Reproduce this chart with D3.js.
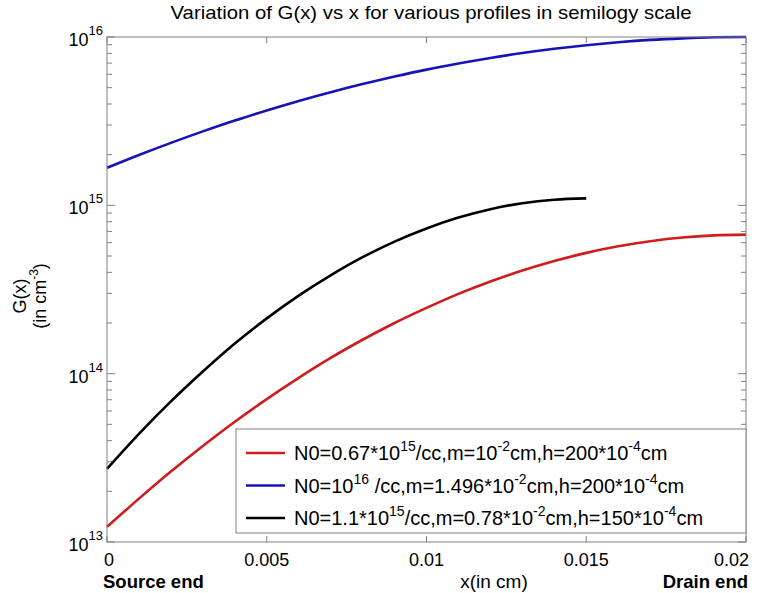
<!DOCTYPE html>
<html>
<head>
<meta charset="utf-8">
<script src="https://cdn.jsdelivr.net/npm/d3@7"></script>
<style>
	body { margin: 0; background: #fff; }
	svg { font-family: 'Liberation Sans', Arial, sans-serif; }
</style>
</head>
<body>
<div id="chart"></div>
<script>
// x positions (cm) shared by the curves
const xs = [0, 0.001, 0.002, 0.003, 0.004, 0.005, 0.006, 0.007, 0.008, 0.009, 0.01,
	0.011, 0.012, 0.013, 0.014, 0.015, 0.016, 0.017, 0.018, 0.019, 0.02]

// G(x), cm^-3
const redG = [1.23e13, 1.81e13, 2.62e13, 3.72e13, 5.18e13, 7.06e13, 9.44e13, 1.24e14,
	1.59e14, 2.0e14, 2.46e14, 2.98e14, 3.53e14, 4.1e14, 4.67e14, 5.22e14, 5.71e14,
	6.12e14, 6.44e14, 6.63e14, 6.7e14]
const blueG = [1.67e15, 1.99e15, 2.35e15, 2.75e15, 3.19e15, 3.66e15, 4.17e15, 4.7e15,
	5.25e15, 5.82e15, 6.4e15, 6.96e15, 7.51e15, 8.03e15, 8.51e15, 8.94e15, 9.31e15,
	9.61e15, 9.82e15, 9.96e15, 1e16]
const blackG = [2.72e13, 4.39e13, 6.84e13, 1.03e14, 1.51e14, 2.13e14, 2.91e14, 3.84e14,
	4.92e14, 6.09e14, 7.29e14, 8.46e14, 9.49e14, 1.03e15, 1.08e15, 1.1e15]

const xTicks = [0, 0.005, 0.01, 0.015, 0.02]
const xTickLabels = ['0', '0.005', '0.01', '0.015', '0.02']
const yTicks = [1e13, 1e14, 1e15, 1e16]
const yTickExp = ['13', '14', '15', '16']

// legend text: [normal, superscript] pieces
const legendRed = [['N0=0.67*10', '15'], ['/cc,m=10', '-2'], ['cm,h=200*10', '-4'], ['cm', '']]
const legendBlue = [['N0=10', '16'], [' /cc,m=1.496*10', '-2'], ['cm,h=200*10', '-4'], ['cm', '']]
const legendBlack = [['N0=1.1*10', '15'], ['/cc,m=0.78*10', '-2'], ['cm,h=150*10', '-4'], ['cm', '']]

const series = [
	{ color: '#d01c1c', values: redG, legend: legendRed },
	{ color: '#1414b8', values: blueG, legend: legendBlue },
	{ color: '#000000', values: blackG, legend: legendBlack }
]

const W = 764, H = 593
const box = { left: 107, right: 746, top: 37, bottom: 542 }
const axisColor = '#808080'

const svg = d3.select('#chart').append('svg')
	.attr('width', W)
	.attr('height', H)

const x = d3.scaleLinear().domain([0, 0.02]).range([box.left, box.right])
const y = d3.scaleLog().domain([1e13, 1e16]).range([box.bottom, box.top])

// minor log ticks (2..9 in each decade)
const minorTicks = y.ticks().filter(v => !yTicks.includes(v))

const g = svg.append('g')

// ticks, drawn inward on all four sides
;[[box.bottom, -1], [box.top, 1]].forEach(([py, dir]) => {
	g.selectAll(null).data(xTicks).enter().append('line')
		.attr('x1', d => x(d)).attr('x2', d => x(d))
		.attr('y1', py).attr('y2', py + dir * 6)
		.attr('stroke', axisColor)
})

;[[box.left, 1], [box.right, -1]].forEach(([px, dir]) => {
	g.selectAll(null).data(yTicks).enter().append('line')
		.attr('x1', px).attr('x2', px + dir * 8)
		.attr('y1', d => y(d)).attr('y2', d => y(d))
		.attr('stroke', axisColor)
	g.selectAll(null).data(minorTicks).enter().append('line')
		.attr('x1', px).attr('x2', px + dir * 5)
		.attr('y1', d => y(d)).attr('y2', d => y(d))
		.attr('stroke', axisColor)
})

// curves
const line = d3.line()
	.x((d, i) => x(xs[i]))
	.y(d => y(d))
	.curve(d3.curveMonotoneX)

series.forEach(s => {
	g.append('path')
		.datum(s.values)
		.attr('d', line)
		.attr('fill', 'none')
		.attr('stroke', s.color)
		.attr('stroke-width', 2.6)
})

// frame
g.append('rect')
	.attr('x', box.left).attr('y', box.top)
	.attr('width', box.right - box.left).attr('height', box.bottom - box.top)
	.attr('fill', 'none')
	.attr('stroke', axisColor)

// x tick labels
g.selectAll('.xl').data(xTicks).enter().append('text')
	.attr('x', d => x(d))
	.attr('y', 566)
	.attr('text-anchor', (d, i) => i == 0 ? 'start' : (i == xTicks.length - 1 ? 'end' : 'middle'))
	.attr('dx', (d, i) => i == 0 ? -3 : (i == xTicks.length - 1 ? 3 : 0))
	.attr('font-size', 18)
	.text((d, i) => xTickLabels[i])

// y tick labels 10^n
yTicks.forEach((v, i) => {
	const t = g.append('text')
		.attr('x', box.left - 4)
		.attr('y', y(v) + 9)
		.attr('text-anchor', 'end')
		.attr('font-size', 18)
	t.append('tspan').text('10')
	t.append('tspan').attr('font-size', 13).attr('dy', -11).text(yTickExp[i])
})

// title
svg.append('text')
	.attr('x', 431)
	.attr('y', 19)
	.attr('text-anchor', 'middle')
	.attr('font-size', 19)
	.attr('textLength', 521)
	.attr('lengthAdjust', 'spacingAndGlyphs')
	.text('Variation of G(x) vs x for various profiles in semilogy scale')

// x labels
svg.append('text')
	.attr('x', 494).attr('y', 588)
	.attr('text-anchor', 'middle')
	.attr('font-size', 19)
	.text('x(in cm)')
svg.append('text')
	.attr('x', 103).attr('y', 588)
	.attr('font-size', 18.5).attr('font-weight', 'bold')
	.text('Source end')
svg.append('text')
	.attr('x', 748).attr('y', 588)
	.attr('text-anchor', 'end')
	.attr('font-size', 18.5).attr('font-weight', 'bold')
	.text('Drain end')

// y label, two rotated lines
const yl = svg.append('g').attr('transform', 'translate(0,296) rotate(-90)')
yl.append('text')
	.attr('x', 0).attr('y', 26)
	.attr('text-anchor', 'middle')
	.attr('font-size', 18)
	.text('G(x)')
const yl2 = yl.append('text')
	.attr('x', 0).attr('y', 46)
	.attr('text-anchor', 'middle')
	.attr('font-size', 18)
yl2.append('tspan').text('(in cm')
yl2.append('tspan').attr('font-size', 12).attr('dy', -8).text('-3')
yl2.append('tspan').attr('dy', 8).text(')')

// legend
const lg = svg.append('g')
lg.append('rect')
	.attr('x', 236).attr('y', 429)
	.attr('width', box.right - 236).attr('height', 104)
	.attr('fill', '#fff')
	.attr('stroke', axisColor)

series.forEach((s, i) => {
	const ry = 453 + i * 32.5
	lg.append('line')
		.attr('x1', 246).attr('x2', 285)
		.attr('y1', ry).attr('y2', ry)
		.attr('stroke', s.color)
		.attr('stroke-width', 2.6)
	const t = lg.append('text')
		.attr('x', 294).attr('y', ry + 7)
		.attr('font-size', 20)
	let shift = 0
	s.legend.forEach(([txt, sup]) => {
		t.append('tspan').attr('dy', shift).text(txt)
		shift = 0
		if (sup) {
			t.append('tspan').attr('font-size', 14).attr('dy', -9).text(sup)
			shift = 9
		}
	})
})
</script>
</body>
</html>
